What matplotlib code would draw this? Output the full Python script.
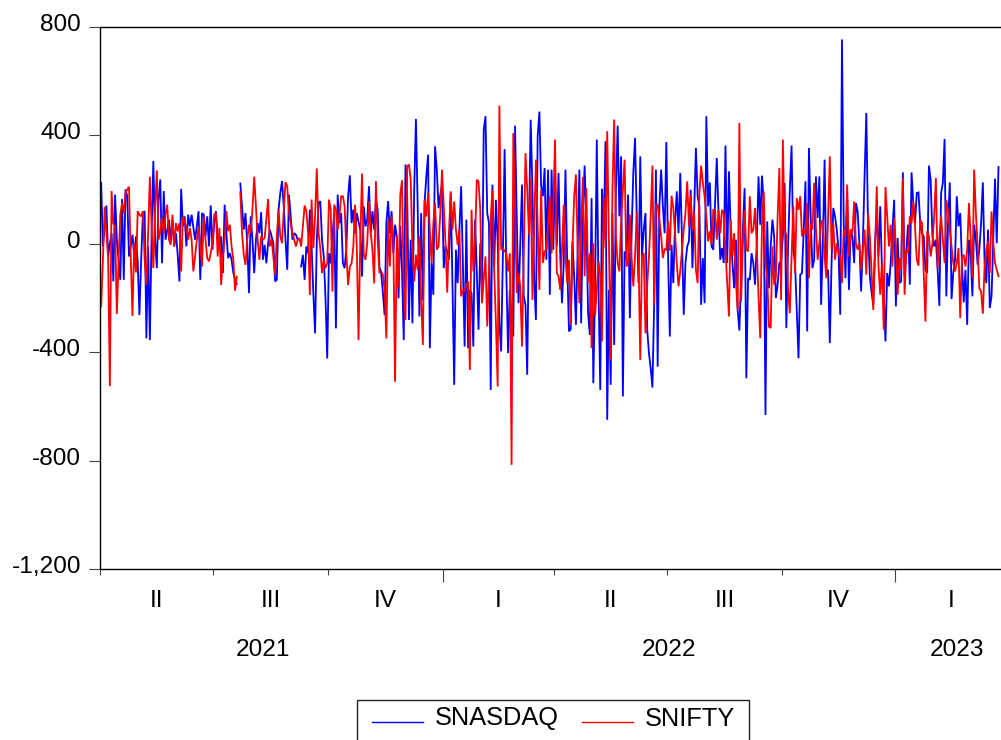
import numpy as np
import pandas as pd
import matplotlib
matplotlib.use("Agg")
import matplotlib.pyplot as plt
from matplotlib.transforms import ScaledTranslation
from matplotlib.lines import Line2D
from matplotlib.patches import Rectangle
from matplotlib.ticker import FuncFormatter

nan = np.nan

# ---- data (daily, 5-day week, starting 2021-04-01) ----
snasdaq = [
    224, -10, 60, 141, -47, 0, 39, -139, 181, 15, -60, -133, 165, -133, 200, 175, -47, -10, 33, -47,
    27, -65, -263, -59, 113, 120, -349, -10, -355, 39, 305, 15, -90, 163, 237, -72, 194, 15, 50, 89,
    9, 89, -10, 39, -40, -139, 202, 64, 101, -10, 107, 64, 107, 60, 15, 64, 120, -133, 113, 107,
    27, 101, -10, 141, -22, 76, 120, 15, -10, 27, -108, 144, 39, -53, -35, -59, -108, -133, -148, nan,
    222, 138, 52, 113, 2, -182, 101, 15, -108, 15, 76, 39, 116, -59, -4, -72, 2, 52, 27, 2,
    -139, -133, 126, 187, 231, 138, 15, -96, 181, 101, 15, 39, 33, 15, nan, -84, -41, -133, -10, -35,
    126, -10, -182, -330, 15, 150, 157, 15, -47, -200, -423, -35, -72, 30, 113, -312, 181, 76, 113, -72,
    -90, -16, 175, 252, 76, 126, 39, 113, 80, 52, -121, 138, 64, 89, 212, 39, 120, 52, 163, 126,
    -84, -108, -180, -263, 76, 157, 39, 120, -35, 70, 27, -201, 67, -100, -355, 292, 163, -281, 15, -293,
    199, 460, 138, -268, 113, -207, 156, 250, 328, -385, -71, -188, 359, 273, 131, 180, 218, -90, -10, -28,
    -59, 187, -145, -520, -22, -145, 52, 212, -71, -379, 89, -385, -170, -182, -379, 89, -100, -317, 2, -182,
    421, 470, 113, 76, -539, 218, -84, 162, 9, -293, -397, -41, 349, -108, -403, -170, -268, -342, 435, 89,
    -219, 0, 218, -194, -225, -483,
    76, 457, 199, -133, -281, 396, 487, 212, 175, 279, -59, 273, -188, 273, -22, 267, -10, 261, -47, -219,
    -71, 273, -71, -323, -315, 9, -120, -299, -22, 273, -293, 101, 288, 76, -256, -336, 168, -514, -170, 384,
    -170, -539, 203, 27, 378, -649, -170, -520, 113, -373, 199, 435, 101, 322, -563, -28, -59, 181, -274, 33,
    261, 390, 89, -145, 322,
    -47, 52, 113, -317, -403, -460, -530, -219, 273, -453, 138, 273, 138, 39, 375, -47, -342, -4, -145, 76,
    193, 39, 261, 15, -262, -71, -10, 9, 199, -90, 120, 353, 175, 138, -225, -53, -219, 470, 138, 226,
    -10, -22, 150, 316, 113, -59, -16, -71, 362, -71, 267, 52, -71, -164, 15, -244, -320, -120, 52, 205,
    -496, -127, -133, -35, -71,
    -151, 2, 248, 70, 251, 150, -631, 82, -164, -10, 89, 27, -200, -151, -71, -65, 27, 224, -311, -10,
    199, 362, -22, -71, -250, -422, -114, -108, 52, 230, -323, 353, 101, -90, -59, 248, 95, 248, -225, 2,
    310, -114, -96, -366, -71, 132, 101, 52, -22, -262, 753, 76, -127, 162, -170, 52, 27, -71, 150, 119,
    2, -176, 2, 250, 482,
    52, -120, -180, -225, 2, 119, -47, 138, -96, -182, -360, -108, -157, -71, 50, 162, -231, 21, -145, -139,
    263, -120, -22, 70, -151, 263, 150, 76, 187, 189, 76, 39, 27, -96, -108, 288, 236, 27, -10, 15,
    -96, -229, 187, 224, 386, -194, 76, 226, -204, -108, -59, 175, 64, 113, -71, -216, -96, -299, 15, -41,
    -194, 70, 15, -77, -20, 76, 226, -71, -145, 52, -237, -194, 15, 240, 2, 283,
]

snifty = [
    -231, -60, 136, 39, -53, -525, 194, 74, 64, -259, -65, 107, 150, 113, 187, 200, 210, -47, -266, 2,
    -106, 120, 107, 101, 120, -59, -152, 39, 247, 64, -90, 126, 271, 15, 46, 95, 39, 107, 144, 15,
    -4, 107, -10, 76, 46, 76, -102, 101, 80, 64, 15, 58, 15, -102, -47, 15, 64, -10, -84, 101,
    15, -53, -65, -35, 2, 107, 113, -47, 58, -152, -47, 15, 120, 46, 70, -10, -59, -173, -121, nan,
    190, 39, -41, -78, 15, 70, 39, 126, 247, 138, 15, -59, 27, 15, 21, 95, 165, -10, 15, -47,
    -115, 27, 126, 27, 2, 126, 227, 212, 113, 76, 39, 15, -10, 15, 21, -10, 64, 141, 120, 39,
    -189, 163, -16, 100, 277, 39, -16, -108, -59, -90, -72, 163, 126, -176, 144, 126, 52, 101, 175, 175,
    138, -35, -152, -84, -72, -10, 144, -10, -355, 15, 259, -41, -59, 2, 157, 39, -22, -146, 231, 15,
    -108, -102, -115, -170, -349, 89, -84, 101, 15, -509, 27, -158, 181, 234, -158, -281, 286, 292, 237, -22,
    -139, -41, -96, 27, -207, -373, 162, 100, 187, 52, -71, 76, 150, -22, -10, 113, 273, 138, 2, -180,
    39, 193, 52, 156, 52, -4, 52, -194, -170, -176, -150, -139, -465, 125, -102, 15, 236, 230, 125, -219,
    -130, -47, -305, -100, 95, 199, -96, -293, -526, 509, -22, -16, -28, -35, -102, -35, -815, 408, 138, -182,
    -108, -157, -379, -53, 334, 199,
    33, 239, -207, 52, 310, 76, -170, 199, -71, -28, -22, 76, 175, -35, 138, 384, -108, -120, -170, -22,
    144, -47, -145, -59, -299, -22, 175, 255, -22, -219, 52, 246, -120, 205, -145, -35, -385, 2, -268, -170,
    -65, -120, -360, 175, -16, 415, 2, -428, 199, 458, 27, -71, -102, 89, 199, 310, -84, -71, 107, -47,
    -157, -47, 119, -47, -428,
    -47, -34, -330, -150, -47, 101, 288, -225, 144, 144, 89, 27, -53, -20, -22, 83, -25, 177, 132, 39,
    -71, -157, -100, -22, 52, 113, 230, 64, 181, 52, 113, -96, -145, 187, 288, 224, 175, 100, 9, 46,
    -4, 125, 125, 15, 125, 39, 125, 113, -22, -145, -268, 89, -47, 39, -139, -244, 445, -213, 2, 125,
    -22, -28, 175, 39, 52,
    132, -10, -194, -348, 76, 193, -71, -121, -305, -311, -10, -151, -121, 100, 279, -207, 384, 52, 33, -170,
    -256, -50, 138, -108, 168, 125, 175, 27, 52, 33, 150, -127, 76, 52, 224, 64, -59, 2, 76, 89,
    -47, -127, 100, 322, -22, 76, -59, 2, -37, -47, -145, 52, 27, 218, -47, 52, 39, 156, 2, -22,
    2, -96, -22, 52, -114,
    113, 27, -100, -244, -34, 212, -84, -188, -71, -317, 209, 101, -10, 70, -84, 95, -10, -188, -53, -96,
    242, -188, -22, -34, 101, 76, 156, 64, -59, -81, 89, 76, -108, -287, 46, 27, -47, 2, 101, 242,
    -90, 27, 101, 15, -71, 162, 119, 52, -10, -71, -102, -71, -16, -274, -47, -41, -84, -22, 150, 20,
    -127, 273, 113, -10, -164, -176, -258, -84, -22, 9, -108, 119, 2, -71, -96, -120,
]

series_names = ["SNASDAQ", "SNIFTY"]
series_colors = ["#0000FF", "#FF0000"]
quarter_names = ["I", "II", "III", "IV"]
y_ticks = [-1200, -800, -400, 0, 400, 800]
start_date = "2021-04-01"
year_label_obs = {2021: 93.0, 2022: 326.5, 2023: 492.0}

# ---- figure ----
W, H = 1001, 740
fig = plt.figure(figsize=(W / 100, H / 100), dpi=100)
plt.rcParams["font.family"] = ["Liberation Sans", "DejaVu Sans"]

axL, axR, axT, axB = 100.3, 1001.0, 26.7, 569.3
ax = fig.add_axes([axL / W, 1 - axB / H, (axR - axL) / W, (axB - axT) / H])

n = max(len(snasdaq), len(snifty))
dates = pd.bdate_range(start_date, periods=n)

for vals, col in zip([snasdaq, snifty], series_colors):
    v = np.array(vals, dtype=float)
    ax.plot(np.arange(len(v)), v, color=col, lw=1.3, solid_joinstyle="miter")

ax.set_xlim(-0.5, -0.5 + (axR - axL) / 1.739)
ax.set_ylim(-1200, 800)

# y axis
ax.set_yticks(y_ticks)
ax.yaxis.set_major_formatter(FuncFormatter(lambda v, p: f"{int(v):,}"))
ax.tick_params(axis="y", direction="out", length=7.7, width=0.8, color="#444444",
               pad=6.2, labelsize=17.6)
for lab in ax.get_yticklabels():
    lab.set_transform(lab.get_transform() + ScaledTranslation(0, 0.045, fig.dpi_scale_trans))

# x axis: quarter boundaries
q = dates.to_period("Q")
q_starts = [0] + [i for i in range(1, n) if q[i] != q[i - 1]]
major_pos, minor_pos = [], []
for i in q_starts:
    (major_pos if q[i].quarter == 1 else minor_pos).append(i - 0.5)
ax.set_xticks(major_pos)
ax.set_xticks(minor_pos, minor=True)
ax.set_xticklabels([])
ax.tick_params(axis="x", which="major", direction="out", length=9.4, width=0.8, color="#444444")
ax.tick_params(axis="x", which="minor", direction="out", length=4.4, width=0.8, color="#444444")

xt = ax.get_xaxis_transform()
for i in q_starts:
    per = q[i]
    nq = len(pd.bdate_range(per.start_time, per.end_time))
    mid = i + (nq - 1) / 2
    ax.text(mid, (axB - 606.7) / (axB - axT), quarter_names[per.quarter - 1],
            transform=xt, ha="center", va="baseline", fontsize=17.6)
for yr, pos in year_label_obs.items():
    ax.text(pos, (axB - 656.0) / (axB - axT), str(yr), transform=xt,
            ha="center", va="baseline", fontsize=17.6)

ax.spines["right"].set_visible(False)
for s in ["left", "top", "bottom"]:
    ax.spines[s].set_linewidth(1.0)
    ax.spines[s].set_color("black")

# legend (box cut by figure bottom, as in the reference)
fig.patches.append(Rectangle((356.7 / W, -0.05), (749 - 356.7) / W, 0.05 + 1 - 700 / H,
                             transform=fig.transFigure, fill=False, lw=1.0, ec="#222222"))
leg_items = [(371.7, 422.7, 435.0), (581.7, 633.3, 645.0)]
for (x0, x1, tx), name, col in zip(leg_items, series_names, series_colors):
    fig.lines.append(Line2D([x0 / W, x1 / W], [1 - 721.7 / H] * 2, transform=fig.transFigure,
                            color=col, lw=1.0))
    fig.text(tx / W, 1 - 725.5 / H, name, ha="left", va="baseline", fontsize=18.3)

fig.savefig("out.png", dpi=100)
